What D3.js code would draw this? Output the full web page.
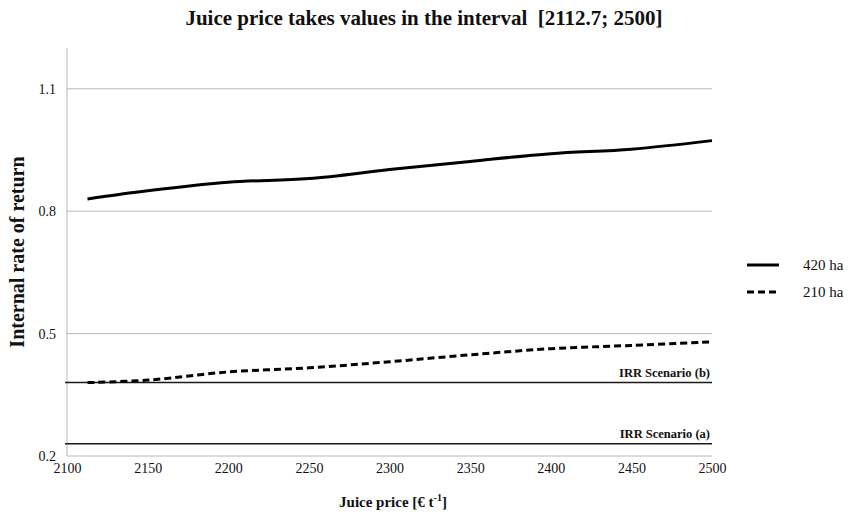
<!DOCTYPE html>
<html>
<head>
<meta charset="utf-8">
<script src="https://cdn.jsdelivr.net/npm/d3@7"></script>
<style>
  html, body { margin: 0; padding: 0; background: #fff; }
  svg { display: block; font-family: "Liberation Serif", "Times New Roman", serif; }
</style>
</head>
<body>
<svg id="chart" width="850" height="515"></svg>
<script>
// Juice price (€/t) at which the IRR was evaluated
const prices = [2112.7, 2150, 2200, 2250, 2300, 2350, 2400, 2450, 2500];
// Internal rate of return for the two farm sizes
const irr420 = [0.830, 0.850, 0.871, 0.880, 0.902, 0.922, 0.941, 0.952, 0.973];
const irr210 = [0.380, 0.386, 0.406, 0.416, 0.431, 0.448, 0.463, 0.471, 0.480];
// Reference IRR thresholds
const scenarioNames = ["IRR Scenario (b)", "IRR Scenario (a)"];
const scenarioValues = [0.38, 0.23];
// Axis ticks
const xTicks = [2100, 2150, 2200, 2250, 2300, 2350, 2400, 2450, 2500];
const yTicks = [0.2, 0.5, 0.8, 1.1];
const seriesNames = ["420 ha", "210 ha"];

const svg = d3.select("#chart");
const margin = { left: 67, right: 138, top: 48, bottom: 59 };
const W = 850, H = 515;

const x = d3.scaleLinear().domain([2100, 2500]).range([margin.left, W - margin.right]);
const y = d3.scaleLinear().domain([0.2, 1.2]).range([H - margin.bottom, margin.top]);

// soft shadow for the threshold lines
const defs = svg.append("defs");
defs.append("filter").attr("id", "soft")
  .attr("x", "-5%").attr("y", "-200%").attr("width", "110%").attr("height", "500%")
  .append("feGaussianBlur").attr("stdDeviation", 1.2);

// horizontal gridlines
svg.append("g").selectAll("line").data(yTicks).join("line")
  .attr("x1", x(2100)).attr("x2", x(2500))
  .attr("y1", d => y(d)).attr("y2", d => y(d))
  .attr("stroke", "#b8b8b8").attr("stroke-width", 1);

// y axis line
svg.append("line")
  .attr("x1", x(2100)).attr("x2", x(2100))
  .attr("y1", y(1.2)).attr("y2", y(0.2))
  .attr("stroke", "#b8b8b8").attr("stroke-width", 1);

// y tick labels
const yAxis = d3.axisLeft(y).tickValues(yTicks).tickFormat(d3.format(".1f")).tickSize(0).tickPadding(11);
const gy = svg.append("g").attr("transform", `translate(${x(2100)},0)`).call(yAxis);
gy.select(".domain").remove();
gy.selectAll("text").attr("font-family", "Liberation Serif").attr("font-size", 14).attr("fill", "#111");

// x tick labels
const xAxis = d3.axisBottom(x).tickValues(xTicks).tickFormat(d3.format("d")).tickSize(0).tickPadding(7);
const gx = svg.append("g").attr("transform", `translate(0,${y(0.2)})`).call(xAxis);
gx.select(".domain").remove();
gx.selectAll("text").attr("font-family", "Liberation Serif").attr("font-size", 14).attr("fill", "#111");

// threshold lines with their labels
scenarioValues.forEach((v, i) => {
  svg.append("line")
    .attr("x1", x(2100) - 2).attr("x2", x(2500))
    .attr("y1", y(v) + 2.5).attr("y2", y(v) + 2.5)
    .attr("stroke", "#c8c8c8").attr("stroke-width", 2)
    .attr("filter", "url(#soft)");
  svg.append("line")
    .attr("x1", x(2100) - 2).attr("x2", x(2500))
    .attr("y1", y(v)).attr("y2", y(v))
    .attr("stroke", "#1a1a1a").attr("stroke-width", 1.5);
  svg.append("text")
    .attr("x", x(2500) - 2).attr("y", y(v) - 6)
    .attr("text-anchor", "end")
    .attr("font-weight", "bold").attr("font-size", 12.5).attr("fill", "#111")
    .text(scenarioNames[i]);
});

// IRR curves
const line = d3.line()
  .x((d, i) => x(prices[i]))
  .y(d => y(d))
  .curve(d3.curveCatmullRom.alpha(0.5));

svg.append("path").datum(irr420)
  .attr("d", line).attr("fill", "none")
  .attr("stroke", "#000").attr("stroke-width", 3);

svg.append("path").datum(irr210)
  .attr("d", line).attr("fill", "none")
  .attr("stroke", "#000").attr("stroke-width", 3)
  .attr("stroke-dasharray", "7,4");

// legend
const legend = svg.append("g");
seriesNames.forEach((name, i) => {
  const ly = 265 + i * 27;
  legend.append("line")
    .attr("x1", 747).attr("x2", 779).attr("y1", ly).attr("y2", ly)
    .attr("stroke", "#000").attr("stroke-width", 3)
    .attr("stroke-dasharray", i === 1 ? "7,4" : null);
  legend.append("text")
    .attr("x", 803).attr("y", ly + 5)
    .attr("font-size", 15).attr("fill", "#111")
    .text(name);
});

// title
svg.append("text")
  .attr("x", 424).attr("y", 25)
  .attr("text-anchor", "middle")
  .attr("font-weight", "bold").attr("font-size", 21).attr("fill", "#111")
  .style("white-space", "pre")
  .text("Juice price takes values in the interval  [2112.7; 2500]");

// y axis title
svg.append("text")
  .attr("transform", `translate(24,252) rotate(-90)`)
  .attr("text-anchor", "middle")
  .attr("font-weight", "bold").attr("font-size", 20).attr("fill", "#111")
  .text("Internal rate of return");

// x axis title with superscript
const xt = svg.append("text")
  .attr("x", 393).attr("y", 507)
  .attr("text-anchor", "middle")
  .attr("font-weight", "bold").attr("font-size", 15).attr("fill", "#111");
xt.append("tspan").text("Juice price [€ t");
xt.append("tspan").attr("font-size", 10).attr("dy", -6).text("-1");
xt.append("tspan").attr("dy", 6).text("]");
</script>
</body>
</html>
